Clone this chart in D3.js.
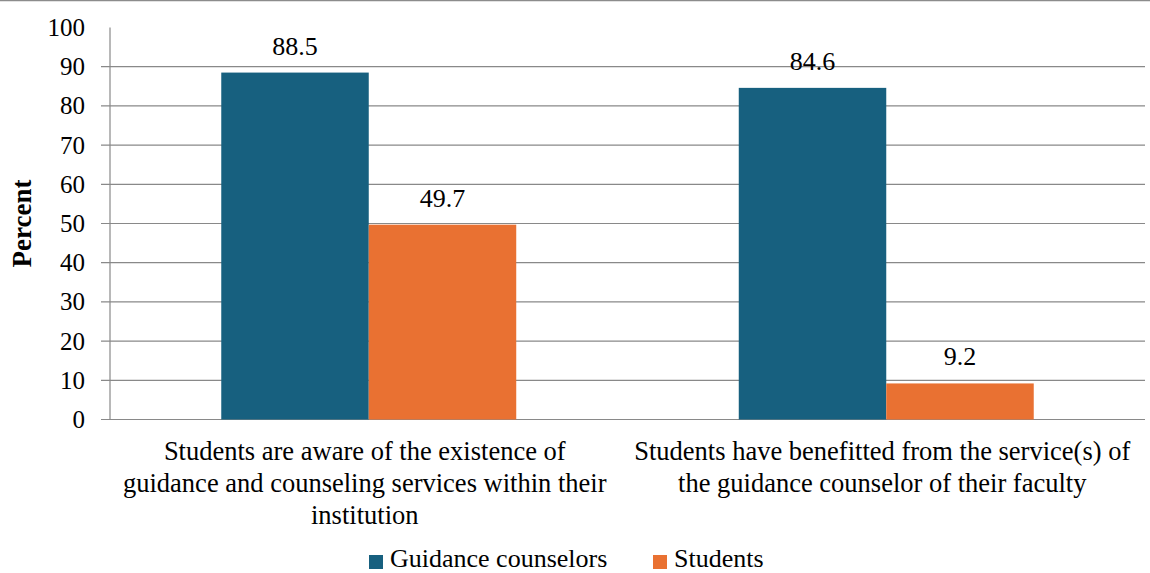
<!DOCTYPE html>
<html>
<head>
<meta charset="utf-8">
<script src="https://cdn.jsdelivr.net/npm/d3@7"></script>
</head>
<body style="margin:0">
<svg id="s" width="1150" height="573"></svg>
<script>
// Survey results: share answering yes, by respondent group
const categories = [
  ["Students are aware of the existence of", "guidance and counseling services within their", "institution"],
  ["Students have benefitted from the service(s) of", "the guidance counselor of their faculty"]
];
const seriesNames = ["Guidance counselors", "Students"];
const counselorValues = [88.5, 84.6];
const studentValues = [49.7, 9.2];
const yTicks = [0, 10, 20, 30, 40, 50, 60, 70, 80, 90, 100];
const colors = ["#17607f", "#e97132"];

const FONT = "'Liberation Serif'";

const svg = d3.select("#s");
const margin = { left: 110, right: 5, top: 27.5, bottom: 153.5 };
const W = 1150, H = 573;
const x0 = margin.left, x1 = W - margin.right;
const yTop = margin.top, yBot = H - margin.bottom;

const x = d3.scaleBand().domain(d3.range(categories.length)).range([x0, x1]);
const y = d3.scaleLinear().domain([0, 100]).range([yBot, yTop]);

// adds a text node in the serif face used throughout the figure
function label(px, tx, ty, str) {
  return svg.append("text").attr("x", tx).attr("y", ty).attr("font-size", px)
    .style("font-family", FONT).text(str);
}

// frame edge across the top
svg.append("line").attr("x1", 0).attr("x2", W).attr("y1", 0.5).attr("y2", 0.5)
  .attr("stroke", "#8c8c8c").attr("stroke-width", 1.5);

// horizontal gridlines with outward ticks
svg.selectAll("line.grid").data(yTicks.filter(t => t < 100)).join("line")
  .attr("class", "grid")
  .attr("x1", x0 - 9).attr("x2", x1)
  .attr("y1", d => y(d)).attr("y2", d => y(d))
  .attr("stroke", "#898989").attr("stroke-width", 1.2);

// vertical axis
svg.append("line").attr("x1", x0).attr("x2", x0).attr("y1", y(100)).attr("y2", y(0))
  .attr("stroke", "#898989").attr("stroke-width", 1.2);

// tick labels
yTicks.forEach(t => {
  label(25, 85, y(t) + 8.5, t).attr("text-anchor", "end");
});

// axis title
label(27, 0, 0, "Percent")
  .attr("transform", `translate(31, ${(yTop + yBot) / 2}) rotate(-90)`)
  .attr("text-anchor", "middle").attr("font-weight", "bold");

// bars: two adjacent bars centred in each category band
const barW = x.bandwidth() * 0.285;
const bars = categories.flatMap((c, i) => [
  { cat: i, s: 0, v: counselorValues[i] },
  { cat: i, s: 1, v: studentValues[i] }
]);
const barX = d => x(d.cat) + x.bandwidth() / 2 - barW + d.s * barW;

svg.selectAll("rect.bar").data(bars).join("rect")
  .attr("class", "bar")
  .attr("x", barX).attr("width", barW)
  .attr("y", d => y(d.v)).attr("height", d => y(0) - y(d.v))
  .attr("fill", d => colors[d.s]);

// value labels
bars.forEach(d => {
  label(26, barX(d) + barW / 2, y(d.v) - 18, d.v.toFixed(1)).attr("text-anchor", "middle");
});

// category labels, one text per line
categories.forEach((lines, i) => {
  lines.forEach((t, k) => {
    label(26.5, x(i) + x.bandwidth() / 2 - 4, 460 + k * 32, t).attr("text-anchor", "middle");
  });
});

// legend
const legendX = [369, 653];
seriesNames.forEach((name, i) => {
  svg.append("rect").attr("x", legendX[i]).attr("y", 555).attr("width", 14).attr("height", 14)
    .attr("fill", colors[i]);
  label(26, legendX[i] + 21, 567, name);
});
</script>
</body>
</html>
